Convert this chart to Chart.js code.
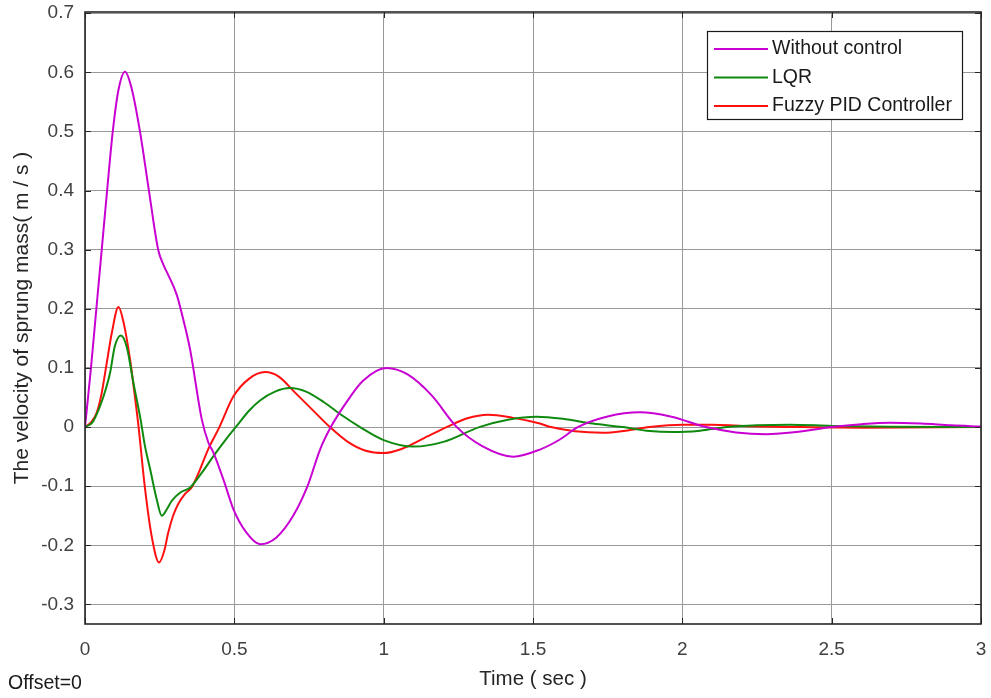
<!DOCTYPE html>
<html>
<head>
<meta charset="utf-8">
<script src="https://cdn.jsdelivr.net/npm/chart.js@4.4.1/dist/chart.umd.min.js"></script>
<style>
html,body{margin:0;padding:0;background:#fff;}
#wrap{width:991px;height:698px;position:relative;}
</style>
</head>
<body>
<div id="wrap"><canvas id="c" width="991" height="698"></canvas></div>
<script>
// ---- data ----
const seriesLabels = ["Without control", "LQR", "Fuzzy PID Controller"];

const timeWithout = [0,0.02,0.038,0.056,0.074,0.093,0.112,0.134,0.155,0.184,0.214,0.245,0.262,0.279,0.307,0.33,0.352,0.391,0.413,0.43,0.465,0.497,0.54,0.586,0.64,0.697,0.745,0.787,0.823,0.87,0.93,1.01,1.08,1.16,1.245,1.33,1.434,1.523,1.59,1.65,1.75,1.858,1.96,2.08,2.18,2.28,2.39,2.5,2.6,2.695,2.8,2.9,3.0];
const valWithout  = [0,0.1,0.2,0.3,0.4,0.5,0.57,0.601,0.575,0.5,0.4,0.3,0.275,0.257,0.224,0.18,0.131,0.013,-0.026,-0.043,-0.091,-0.139,-0.178,-0.198,-0.187,-0.15,-0.1,-0.038,0,0.038,0.078,0.1,0.089,0.054,0,-0.032,-0.05,-0.038,-0.021,0,0.018,0.025,0.018,0,-0.009,-0.012,-0.008,0,0.005,0.0075,0.006,0.003,0.001];

const timeLQR = [0,0.025,0.05,0.07,0.084,0.1,0.12,0.14,0.162,0.186,0.2,0.218,0.24,0.257,0.275,0.29,0.318,0.352,0.39,0.43,0.47,0.508,0.55,0.586,0.636,0.686,0.74,0.8,0.86,0.921,1.0,1.1,1.2,1.32,1.42,1.512,1.6,1.7,1.8,1.88,1.97,2.06,2.15,2.25,2.36,2.5,2.7,3.0];
const valLQR  = [0,0.008,0.035,0.065,0.092,0.137,0.155,0.135,0.075,0.013,-0.03,-0.071,-0.122,-0.15,-0.138,-0.125,-0.111,-0.102,-0.078,-0.049,-0.022,0.002,0.028,0.045,0.06,0.066,0.06,0.042,0.02,0,-0.022,-0.033,-0.025,0,0.013,0.0175,0.014,0.006,0,-0.006,-0.0085,-0.006,0,0.003,0.004,0.002,0.0005,0];

const timeFuzzy = [0,0.02,0.039,0.055,0.073,0.09,0.112,0.13,0.151,0.165,0.179,0.2,0.223,0.248,0.265,0.279,0.295,0.312,0.335,0.357,0.38,0.412,0.45,0.497,0.55,0.603,0.65,0.7,0.76,0.82,0.88,0.94,0.999,1.06,1.13,1.211,1.28,1.35,1.43,1.523,1.56,1.64,1.735,1.81,1.89,2.0,2.1,2.2,2.4,2.6,3.0];
const valFuzzy  = [0,0.008,0.024,0.055,0.109,0.16,0.203,0.175,0.114,0.06,0.002,-0.1,-0.184,-0.229,-0.21,-0.178,-0.15,-0.13,-0.113,-0.102,-0.078,-0.038,0,0.052,0.082,0.093,0.085,0.06,0.03,0,-0.025,-0.04,-0.044,-0.037,-0.02,0,0.015,0.021,0.016,0.006,0,-0.007,-0.0095,-0.006,0,0.004,0.004,0.002,0,-0.001,0];

const xTicks = [0,0.5,1,1.5,2,2.5,3];
const yTicks = [-0.3,-0.2,-0.1,0,0.1,0.2,0.3,0.4,0.5,0.6,0.7];
const xTitle = "Time ( sec )";
const yTitle = "The velocity of sprung mass( m / s )";
const footNote = "Offset=0";

const colors = ["#c800d2", "#0f8a0f", "#ff1010"];

function pts(t, v){ return t.map((x,i)=>({x:x, y:v[i]})); }

const FONT = "'Liberation Sans', Arial, Helvetica, sans-serif";

const frameAndLegend = {
  id: 'frameAndLegend',
  afterDraw(chart){
    const ctx = chart.ctx;
    const a = chart.chartArea;
    const xs = chart.scales.x, ys = chart.scales.y;
    ctx.save();
    // inward ticks
    ctx.strokeStyle = '#262626';
    ctx.lineWidth = 1;
    const tl = 6;
    xTicks.forEach(v=>{
      const px = Math.round(xs.getPixelForValue(v))+0.5;
      ctx.beginPath(); ctx.moveTo(px,a.bottom); ctx.lineTo(px,a.bottom-tl); ctx.stroke();
      ctx.beginPath(); ctx.moveTo(px,a.top); ctx.lineTo(px,a.top+tl); ctx.stroke();
    });
    yTicks.forEach(v=>{
      const py = Math.round(ys.getPixelForValue(v))+0.5;
      ctx.beginPath(); ctx.moveTo(a.left,py); ctx.lineTo(a.left+tl,py); ctx.stroke();
      ctx.beginPath(); ctx.moveTo(a.right,py); ctx.lineTo(a.right-tl,py); ctx.stroke();
    });
    // frame
    ctx.lineWidth = 1.6;
    ctx.strokeRect(a.left, a.top, a.right-a.left, a.bottom-a.top);

    // legend box
    const bx = 707, by = 31, bw = 255, bh = 88;
    ctx.fillStyle = '#fff';
    ctx.fillRect(bx, by, bw, bh);
    ctx.lineWidth = 1.2;
    ctx.strokeStyle = '#1a1a1a';
    ctx.strokeRect(bx+0.5, by+0.5, bw, bh);
    ctx.font = "19.5px " + FONT;
    ctx.textBaseline = 'middle';
    ctx.textAlign = 'left';
    chart.data.datasets.forEach((ds,i)=>{
      const y = by + 18 + i*28.5;
      ctx.strokeStyle = ds.borderColor;
      ctx.lineWidth = 2;
      ctx.beginPath(); ctx.moveTo(bx+7, y); ctx.lineTo(bx+61, y); ctx.stroke();
      ctx.fillStyle = '#1a1a1a';
      ctx.fillText(ds.label, bx+65, y);
    });
    // footnote
    ctx.fillStyle = '#1a1a1a';
    ctx.font = "19.5px " + FONT;
    ctx.textBaseline = 'middle';
    ctx.fillText(footNote, 8, 684);
    ctx.restore();
  }
};

new Chart(document.getElementById('c'), {
  type: 'line',
  data: {
    datasets: [
      {label: seriesLabels[0], data: pts(timeWithout, valWithout), borderColor: colors[0]},
      {label: seriesLabels[1], data: pts(timeLQR, valLQR), borderColor: colors[1]},
      {label: seriesLabels[2], data: pts(timeFuzzy, valFuzzy), borderColor: colors[2]}
    ].map(d=>Object.assign(d,{borderWidth:2, pointRadius:0, fill:false, cubicInterpolationMode:'monotone'}))
  },
  options: {
    responsive: false,
    animation: false,
    layout: {padding: {left: 0, right: 10, top: 12, bottom: 0}},
    plugins: {legend: {display: false}, tooltip: {enabled: false}},
    scales: {
      x: {
        type: 'linear', min: 0, max: 3,
        afterBuildTicks: s => { s.ticks = xTicks.map(v=>({value:v})); },
        afterFit: s => { s.height = 74; s.paddingLeft = 0; s.paddingRight = 0; },
        grid: {color: '#999999', lineWidth: 1, drawTicks: false},
        border: {display: false},
        ticks: {padding: 14, color: '#404040', font: {family: FONT, size: 19}, maxRotation: 0,
                callback: v => String(v)},
        title: {display: true, text: xTitle, color: '#262626', font: {family: FONT, size: 20.5}, padding: {top: 2, bottom: 6}}
      },
      y: {
        type: 'linear', min: -0.333, max: 0.702,
        afterBuildTicks: s => { s.ticks = yTicks.map(v=>({value:v})); },
        afterFit: s => { s.width = 85; s.paddingTop = 0; s.paddingBottom = 0; },
        grid: {color: '#999999', lineWidth: 1, drawTicks: false},
        border: {display: false},
        ticks: {padding: 11, color: '#404040', font: {family: FONT, size: 19},
                callback: v => String(parseFloat(v.toFixed(1)))},
        title: {display: true, text: yTitle, color: '#262626', font: {family: FONT, size: 21}, padding: {top: 10, bottom: 2}}
      }
    }
  },
  plugins: [frameAndLegend]
});
</script>
</body>
</html>
